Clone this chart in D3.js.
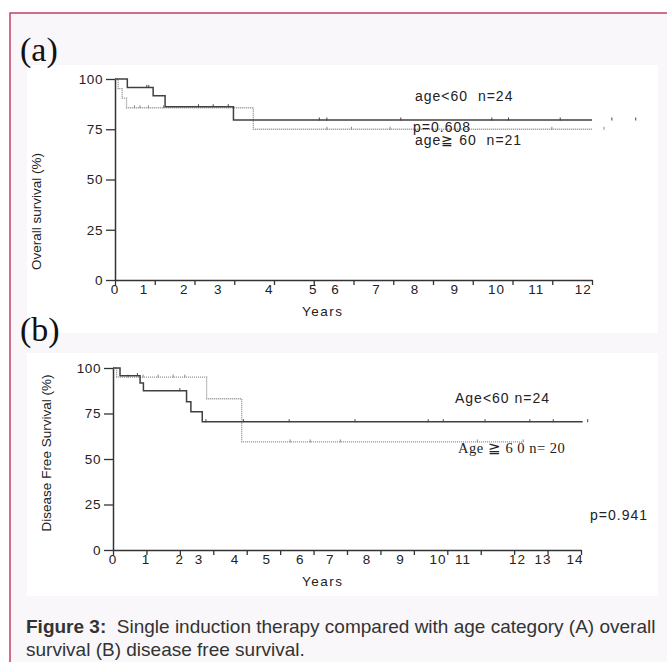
<!DOCTYPE html>
<html>
<head>
<meta charset="utf-8">
<script src="https://cdn.jsdelivr.net/npm/d3@7"></script>
<style>
  body { margin: 0; background: #fff; }
  svg text { font-family: "Liberation Sans", Arial, sans-serif; }
</style>
</head>
<body>
<div id="figure"></div>
<script>
// values: time in years, survival in %

// (a) overall survival
const osYoungTimes  = [0, 0.31, 0.96, 1.26, 2.98];
const osYoungSurv   = [100, 95.8, 91.7, 86.2, 79.6];
const osYoungEnd    = 12;
const osYoungCensor = [0.8, 0.85, 2.1, 2.47, 2.85, 5.14, 5.33, 7.19, 9.48, 9.9, 11.2, 12.5, 13.1];

const osOldTimes  = [0, 0.08, 0.18, 0.29, 3.48];
const osOldSurv   = [100, 95.2, 90.5, 85.7, 75.0];
const osOldEnd    = 12;
const osOldCensor = [0.49, 0.63, 0.84, 1.22, 5.33, 5.95, 6.92, 10.99, 12.3];

// the printed year labels sit off their tick marks in the original
const osTickLabels  = ['0', '1', '2', '3', '4', '5', '6', '7', '8', '9', '10', '11', '12'];
const osTickLabelAt = [0, 0.73, 1.74, 2.6, 3.88, 4.99, 5.55, 6.58, 7.55, 8.55, 9.6, 10.6, 11.78];

// (b) disease free survival
const dfsYoungTimes  = [0, 0.21, 0.81, 0.91, 2.2, 2.33, 2.67];
const dfsYoungSurv   = [100, 95.8, 91.7, 87.5, 81.5, 76.0, 70.5];
const dfsYoungEnd    = 14.05;
const dfsYoungCensor = [0.73, 2.0, 2.78, 3.9, 5.27, 7.24, 9.43, 9.88, 11.13, 12.47, 13.17, 14.2];

const dfsOldTimes  = [0, 0.11, 2.8, 3.85];
const dfsOldSurv   = [100, 95.0, 83.1, 59.4];
const dfsOldEnd    = 12.27;
const dfsOldCensor = [0.45, 0.9, 1.35, 1.8, 2.15, 5.3, 5.9, 6.8, 10.9, 12.27];

const dfsTickLabels  = ['0', '1', '2', '3', '4', '5', '6', '7', '8', '9', '10', '11', '12', '13', '14'];
const dfsTickLabelAt = [0, 0.99, 2.0, 2.57, 3.65, 4.6, 5.6, 6.5, 7.6, 8.6, 9.72, 10.47, 12.1, 12.86, 13.82];

const yTicks = [0, 25, 50, 75, 100];

const W = 667, H = 662;
const SERIF = '"Liberation Serif", "Times New Roman", serif';

const svg = d3.select('#figure')
  .append('svg')
  .attr('width', W)
  .attr('height', H);

// page background, framed box and the two white panels
svg.append('rect').attr('width', W).attr('height', H).attr('fill', '#fff');
svg.append('rect')
  .attr('x', 10).attr('y', 13).attr('width', 700).attr('height', 700)
  .attr('fill', '#f9f7f9').attr('stroke', '#c2406a').attr('stroke-width', 1.5);
svg.append('rect').attr('x', 27).attr('y', 65).attr('width', 631).attr('height', 268).attr('fill', '#fff');
svg.append('rect').attr('x', 27).attr('y', 353).attr('width', 631).attr('height', 243).attr('fill', '#fff');

function survivalAt(times, surv, t) {
  let s = surv[0];
  times.forEach((tt, i) => { if (tt <= t) s = surv[i]; });
  return s;
}

function drawCurve(g, x, y, times, surv, end, censor, dotted) {
  const pts = times.map((t, i) => [t, surv[i]]);
  pts.push([end, surv[surv.length - 1]]);

  const line = d3.line()
    .x(d => x(d[0]))
    .y(d => y(d[1]))
    .curve(d3.curveStepAfter);

  const col = dotted ? '#8a8a8a' : '#404040';

  g.append('path')
    .datum(pts)
    .attr('fill', 'none')
    .attr('stroke', col)
    .attr('stroke-width', dotted ? 1.3 : 1.5)
    .attr('stroke-dasharray', dotted ? '1,1' : null)
    .attr('d', line);

  // censor marks
  g.selectAll(null)
    .data(censor)
    .enter()
    .append('line')
    .attr('x1', d => x(d))
    .attr('x2', d => x(d))
    .attr('y1', d => y(survivalAt(times, surv, d)) - 2.5)
    .attr('y2', d => y(survivalAt(times, surv, d)) + 0.5)
    .attr('stroke', col)
    .attr('stroke-width', 1);
}

function drawPanel(p) {
  const g = svg.append('g');

  const x = d3.scaleLinear().domain([0, p.maxYear]).range([p.left, p.right]);
  const y = d3.scaleLinear().domain([0, 100]).range([p.bottom, p.top]);

  // x axis: tick marks only, labels are placed where the original printed them
  const xAxis = g.append('g')
    .attr('transform', `translate(0,${p.bottom})`)
    .call(d3.axisBottom(x)
      .tickValues(d3.range(0, p.maxYear + 1))
      .tickSize(5)
      .tickSizeOuter(0)
      .tickFormat(''));

  g.selectAll(null)
    .data(p.tickLabels)
    .enter()
    .append('text')
    .attr('x', (d, i) => x(p.tickLabelAt[i]))
    .attr('y', p.bottom + 14)
    .attr('text-anchor', 'middle')
    .attr('font-size', 13.5)
    .attr('letter-spacing', 1)
    .attr('fill', '#222')
    .text(d => d);

  const yAxis = g.append('g')
    .attr('transform', `translate(${p.left},0)`)
    .call(d3.axisLeft(y)
      .tickValues(yTicks)
      .tickSize(9)
      .tickSizeOuter(0)
      .tickPadding(3));

  [xAxis, yAxis].forEach(a => {
    a.select('.domain').attr('stroke', '#333').attr('stroke-width', 1.5);
    a.selectAll('.tick line').attr('stroke', '#333').attr('stroke-width', 1.3);
    a.selectAll('.tick text')
      .attr('font-size', 13.5)
      .attr('letter-spacing', 0.6)
      .attr('font-family', '"Liberation Sans", Arial, sans-serif')
      .attr('fill', '#222');
  });

  g.append('text')
    .attr('x', 302)
    .attr('y', p.bottom + 36)
    .attr('font-size', 13.5)
    .attr('letter-spacing', 1.5)
    .attr('fill', '#222')
    .text('Years');

  g.append('text')
    .attr('transform', `translate(${p.titleX},${(p.top + p.bottom) / 2 + p.titleDy}) rotate(-90)`)
    .attr('text-anchor', 'middle')
    .attr('font-size', 13.5)
    .attr('fill', '#222')
    .text(p.title);

  p.curves.forEach(c => drawCurve(g, x, y, c.times, c.surv, c.end, c.censor, c.dotted));

  return g;
}

drawPanel({
  left: 115, right: 592, top: 79, bottom: 280,
  maxYear: 12,
  tickLabels: osTickLabels, tickLabelAt: osTickLabelAt,
  title: 'Overall survival (%)', titleX: 41, titleDy: 32,
  curves: [
    { times: osOldTimes, surv: osOldSurv, end: osOldEnd, censor: osOldCensor, dotted: true },
    { times: osYoungTimes, surv: osYoungSurv, end: osYoungEnd, censor: osYoungCensor, dotted: false }
  ]
});

drawPanel({
  left: 113, right: 581, top: 368, bottom: 550,
  maxYear: 14,
  tickLabels: dfsTickLabels, tickLabelAt: dfsTickLabelAt,
  title: 'Disease Free Survival (%)', titleX: 51, titleDy: -6,
  curves: [
    { times: dfsOldTimes, surv: dfsOldSurv, end: dfsOldEnd, censor: dfsOldCensor, dotted: true },
    { times: dfsYoungTimes, surv: dfsYoungSurv, end: dfsYoungEnd, censor: dfsYoungCensor, dotted: false }
  ]
});

// panel letters
svg.append('text').attr('x', 20).attr('y', 61)
  .style('font-family', SERIF)
  .attr('font-size', 34).attr('fill', '#111').text('(a)');
svg.append('text').attr('x', 20).attr('y', 341)
  .style('font-family', SERIF)
  .attr('font-size', 34).attr('fill', '#111').text('(b)');

// group annotations
const note = (x, y, txt, serif) => svg.append('text')
  .attr('x', x).attr('y', y)
  .attr('font-size', serif ? 14.5 : 14)
  .attr('letter-spacing', serif ? 0.5 : 1)
  .attr('fill', '#222')
  .style('font-family', serif ? SERIF : null)
  .attr('xml:space', 'preserve')
  .text(txt);

note(415, 101, 'age<60  n=24');
note(413, 132, 'p=0.608');
note(415, 145, 'age\u2267 60  n=21');
note(455, 403, 'Age<60 n=24');
note(458, 453, 'Age \u2267 6 0 n= 20', true);
note(590, 520, 'p=0.941');

// caption
const cap = svg.append('g').attr('fill', '#333').attr('font-size', 19);
const line1 = cap.append('text').attr('x', 26).attr('y', 633).attr('xml:space', 'preserve');
line1.append('tspan').attr('font-weight', 'bold').text('Figure 3:');
line1.append('tspan').text('  Single induction therapy compared with age category (A) overall');
cap.append('text').attr('x', 26).attr('y', 656).text('survival (B) disease free survival.');
</script>
</body>
</html>
